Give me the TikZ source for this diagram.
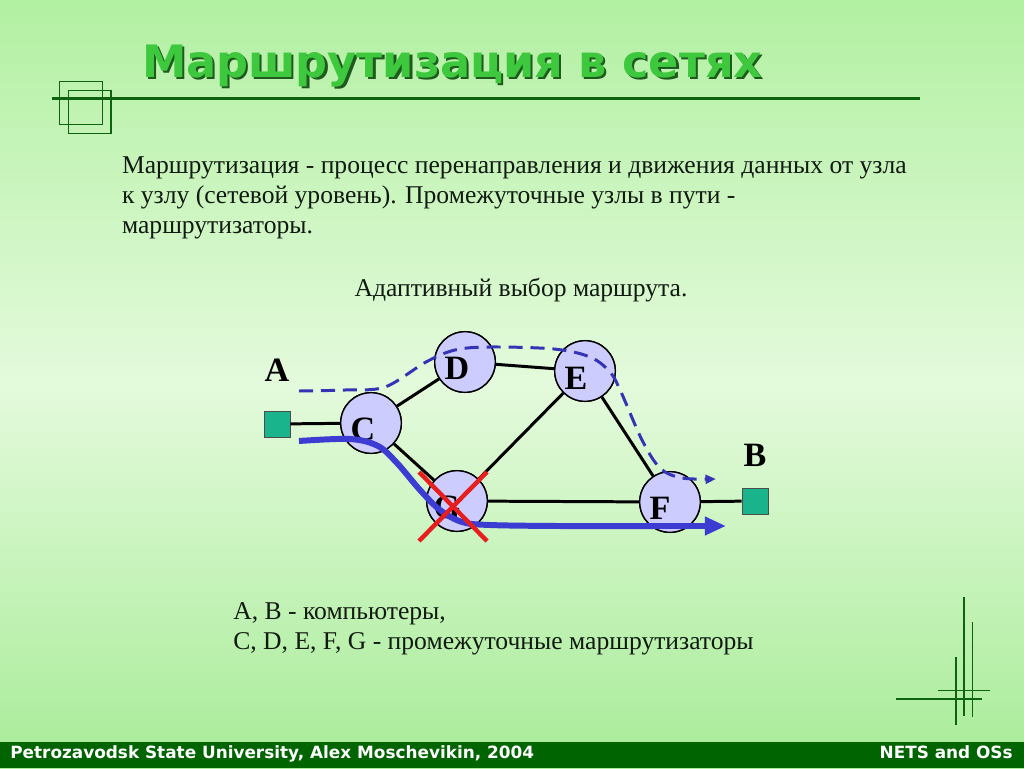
\documentclass[tikz,border=0pt]{standalone}
\usepackage{fontspec}
\setmainfont{Liberation Serif}
\newfontfamily\verd{DejaVu Sans}
\usetikzlibrary{arrows.meta}
\definecolor{bgtop}{HTML}{B2F0A2}
\definecolor{bgmid}{HTML}{E4FADC}
\definecolor{bgbot}{HTML}{A8EC98}
\definecolor{dkgreen}{HTML}{0E640E}
\definecolor{footgreen}{HTML}{006400}
\definecolor{titlegreen}{HTML}{3EC83E}
\definecolor{shadowgreen}{HTML}{1E5A1E}
\definecolor{nodefill}{HTML}{CCCCFF}
\definecolor{sqfill}{HTML}{1AB48C}
\definecolor{pathblue}{HTML}{3C3CD2}
\definecolor{dashblue}{HTML}{3434B4}
\definecolor{xred}{HTML}{E61E1E}
\definecolor{txt}{HTML}{101A10}
\tikzset{
  router/.style={circle, draw=black, line width=0.8pt, fill=nodefill, minimum size=34.5pt, inner sep=0pt},
  comp/.style={draw=black!70, line width=0.5pt, fill=sqfill, minimum size=14.8pt, inner sep=0pt},
  letter/.style={font=\fontsize{19.4}{20}\selectfont\bfseries, text=black, inner sep=0pt},
  edge/.style={line width=1.7pt, black},
  body/.style={font=\fontsize{14.57}{17.2}\selectfont, text=txt, inner sep=0pt, anchor=base west},
  foot/.style={font=\verd\fontsize{9.6}{10}\selectfont\bfseries, text=white, inner sep=0pt},
  titlefont/.style={font=\verd\fontsize{25.4}{28}\selectfont\bfseries, anchor=base west, inner sep=0pt},
  deco/.style={dkgreen, line width=0.7pt},
}
\begin{document}
\begin{tikzpicture}[x=0.02cm, y=-0.02cm]
% background
\shade[top color=bgtop, bottom color=bgbot, middle color=bgmid, shading angle=0] (0,0) rectangle (1024,768);
\useasboundingbox (0,0) rectangle (1024,768);
% footer
\fill[footgreen] (0,742) rectangle (1024,768);
\node[foot, anchor=base west] (foot1) at (10,758) {Petrozavodsk State University, Alex Moschevikin, 2004};
\node[foot, anchor=base east] (foot2) at (1013,758) {NETS and OSs};
% header decoration
\draw[dkgreen, line width=0.6pt] (59.3,81.7) rectangle (102.3,124.3);
\draw[dkgreen, line width=0.6pt] (68.3,90.3) rectangle (111,133.3);
\draw[dkgreen, line width=1.8pt] (51.7,98.5) -- (920,98.5);
% title with shadow
\node[titlefont, text=shadowgreen] (titleshadow) at (143.9,79.5) {Маршрутизация в сетях};
\node[titlefont, text=titlegreen] (title) at (141.7,77.3) {Маршрутизация в сетях};
% body text
\node[body] (l1) at (121.7,173.3) {Маршрутизация - процесс перенаправления и движения данных от узла};
\node[body] (l2) at (121.7,203.5) {к узлу (сетевой уровень). Промежуточные узлы в пути -};
\node[body] (l3) at (121.7,233.6) {маршрутизаторы.};
\node[body, anchor=base] (adapt) at (521,296) {Адаптивный выбор маршрута.};
\node[body] (leg1) at (233,619) {A, B - компьютеры,};
\node[body] (leg2) at (233,649) {C, D, E, F, G - промежуточные маршрутизаторы};
% network
\node[router] (D) at (465,362) {};
\node[router] (E) at (585,371) {};
\node[router] (C) at (371,423) {};
\node[router] (G) at (457,501) {};
\node[router] (F) at (670,502) {};
\node[comp] (sqA) at (277,424) {};
\node[comp] (sqB) at (755,501) {};
\draw[edge] (sqA) -- (C);
\draw[edge] (C) -- (D);
\draw[edge] (D) -- (E);
\draw[edge] (E) -- (G);
\draw[edge] (E) -- (F);
\draw[edge] (C) -- (G);
\draw[edge] (G) -- (F);
\draw[edge] (F) -- (sqB);
% redraw routers over edges
\node[router] at (D) {};
\node[router] at (E) {};
\node[router] at (C) {};
\node[router] at (G) {};
\node[router] at (F) {};
\node[letter] (lD) at ([shift={(-8,6)}]D) {D};
\node[letter] (lE) at ([shift={(-9,7)}]E) {E};
\node[letter] (lC) at ([shift={(-8,6)}]C) {C};
\node[letter] (lG) at ([shift={(-10,6)}]G) {G};
\node[letter] (lF) at ([shift={(-10,6)}]F) {F};
\node[letter] (labA) at (277,370) {A};
\node[letter] (labB) at (755,455) {B};
% paths
\coordinate (ds) at (299,391);
\coordinate (de) at (716,479);
\draw[dashblue, line width=1.7pt, dash pattern=on 8pt off 4.5pt, -{Triangle[length=6pt,width=5pt]}]
  plot[smooth, tension=0.55] coordinates {(ds) (345,390) (385,387) (426,362) (455,350) (490,347) (554,349) (590,357) (610,372) (621,392) (642,440) (660,468) (682,478) (de)};
\coordinate (ss) at (299,441);
\coordinate (se) at (726,526);
\draw[pathblue, line width=3.4pt, -{Triangle[length=12pt,width=10pt]}]
  plot[smooth, tension=0.55] coordinates {(ss) (350,439) (378,446) (397,463) (420,490) (440,510) (462,522) (490,525) (560,526) (660,526) (se)};
% red cross
\draw[xred, line width=2.5pt] (419,472) -- (487,541);
\draw[xred, line width=2.5pt] (419,541) -- (487,472);
% bottom-right decoration
\draw[deco] (964,597) -- (964,716);
\draw[deco] (972.7,622) -- (972.7,717);
\draw[deco] (956,657) -- (956,725);
\draw[deco] (938,690.7) -- (990,690.7);
\draw[deco] (896,699) -- (982,699);
\end{tikzpicture}
\end{document}
